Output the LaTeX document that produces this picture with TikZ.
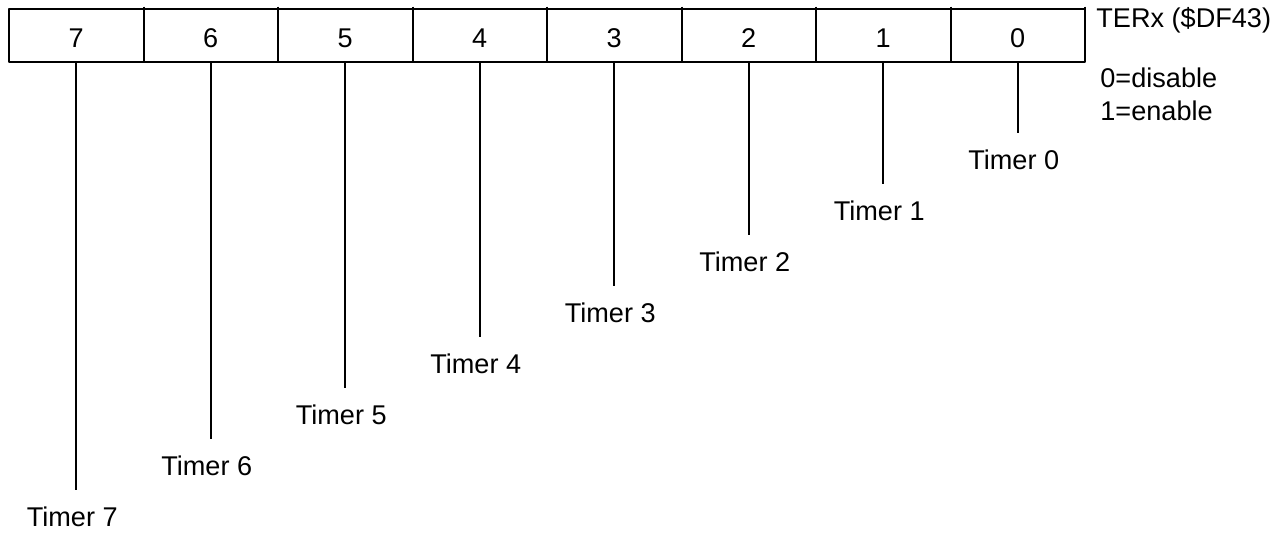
\documentclass[tikz,border=0pt]{standalone}
\usepackage{fontspec}
\setmainfont{Liberation Sans}
\usetikzlibrary{positioning}
\begin{document}
\begin{tikzpicture}[x=0.5bp, y=-0.5bp, font=\fontsize{13.6}{16}\selectfont, line join=round]
	\tikzset{bitcell/.style={draw, line width=1bp, minimum width=67.25bp, minimum height=26.75bp, inner sep=0pt, outer sep=0pt, text height=12.5bp, text depth=0pt},
		leader/.style={line width=0.8bp},
		txt/.style={inner sep=0pt}}
	\useasboundingbox (0,0) rectangle (1284,533);
	% Registerzellen, Bit 7 links
	\foreach \b [count=\i from 0] in {7,...,0}
		\node[bitcell] (b\b) at ({9+134.5*(\i+0.5)},35.5) {\b};
	\foreach \b in {6,...,0}
		\draw[line width=1bp] ([yshift=1bp]b\b.north west) -- (b\b.north west);
	\draw[line width=1bp] ([yshift=1bp]b0.north east) -- (b0.north east);
	% Zuleitungen zu den Timern
	\foreach \b in {0,...,7}{
		\pgfmathsetmacro\yend{133+51*\b}
		\coordinate (e\b) at (b\b.south |- 0,\yend);
		\draw[leader] (b\b.south) -- (e\b);
		\node[txt] (t\b) at ([xshift=-2bp, yshift=-13.5bp]e\b) {Timer \b};
	}
	\node[txt, anchor=west] (reg) at (1096,20) {TERx (\$DF43)};
	\node[txt, anchor=west] (dis) at (1100,78) {0=disable};
	\node[txt, below=6bp of dis.south west, anchor=north west] (ena) {1=enable};
\end{tikzpicture}
\end{document}
